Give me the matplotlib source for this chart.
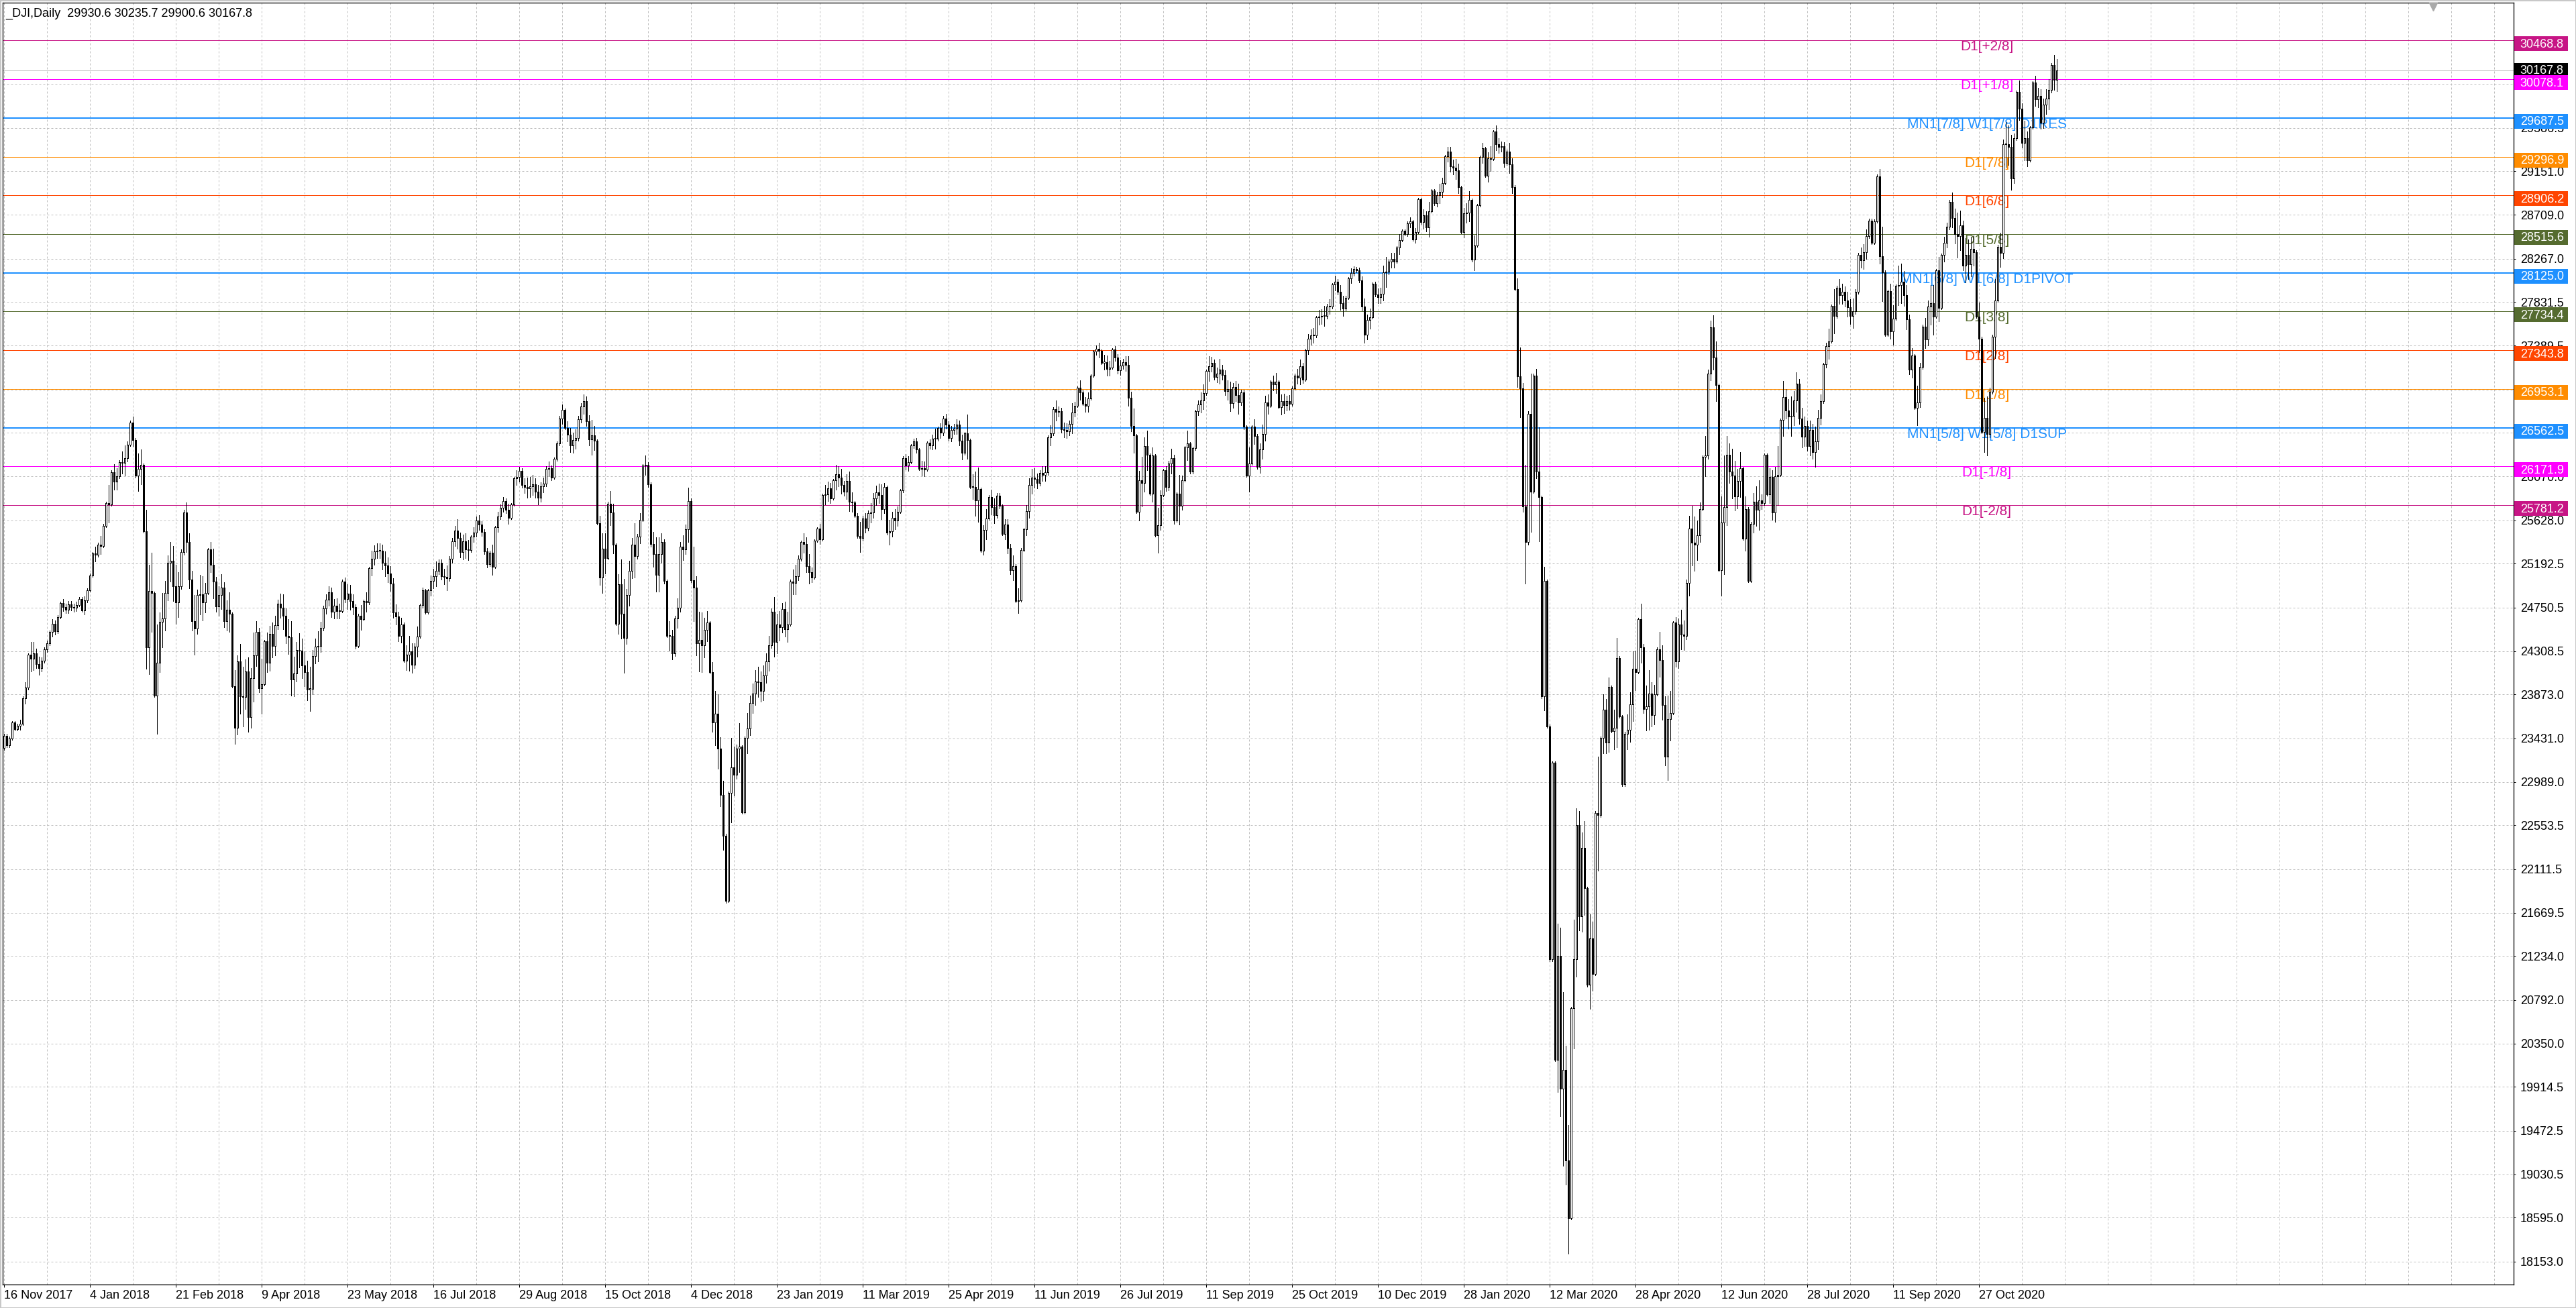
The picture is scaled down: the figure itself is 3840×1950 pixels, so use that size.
import numpy as np
import matplotlib
matplotlib.use('Agg')
import matplotlib.pyplot as plt
from matplotlib.patches import Rectangle
from matplotlib.transforms import blended_transform_factory

plt.rcParams['font.family'] = ['Liberation Sans', 'DejaVu Sans']

# --- data: daily closes (one row per month), first bar = 16 Nov 2017 ---
first_open = 23330
closes = [
    # 2017-11
    23458, 23358, 23430, 23591, 23526, 23558, 23580, 23837, 23940, 24272,
    # 2017-12
    24231, 24290, 24180, 24140, 24212, 24329, 24386, 24504, 24585, 24509,
    24652, 24792, 24754, 24727, 24782, 24754, 24746, 24775, 24838, 24719,
    # 2018-01
    24824, 24922, 25075, 25295, 25283, 25386, 25370, 25575, 25803, 25792,
    26116, 26018, 26072, 26215, 26211, 26253, 26392, 26617, 26440, 26077, 26149,
    # 2018-02
    26187, 25521, 24346, 24913, 24893, 23860, 24191, 24602, 24640, 24894,
    25201, 25219, 24965, 24798, 24962, 25310, 25710, 25411, 25029,
    # 2018-03
    24609, 24538, 24875, 24884, 24801, 24896, 25336, 25179, 25008, 24759,
    24873, 24947, 24611, 24728, 24683, 23958, 23533, 24203, 23857, 23849, 24103,
    # 2018-04
    23644, 24034, 24265, 24505, 23933, 23979, 24408, 24190, 24483, 24360,
    24573, 24787, 24748, 24665, 24463, 24449, 24025, 24084, 24323, 24311, 24163,
    # 2018-05
    24100, 23925, 23930, 24263, 24357, 24361, 24543, 24740, 24831, 24900,
    24707, 24769, 24714, 24715, 25013, 24835, 24887, 24812, 24753, 24362, 24668,
    # 2018-06
    24635, 24813, 24799, 25146, 25242, 25317, 25322, 25320, 25201, 25175,
    25090, 24988, 24701, 24657, 24462, 24581, 24216, 24271,
    # 2018-07
    24307, 24175, 24357, 24456, 24776, 24920, 24700, 24925, 25019, 25064,
    25120, 25199, 25065, 25058, 25044, 25242, 25415, 25528, 25451, 25307, 25415,
    # 2018-08
    25333, 25327, 25463, 25502, 25629, 25583, 25509, 25313, 25188, 25300,
    25162, 25559, 25669, 25758, 25822, 25733, 25656, 25790, 26050, 26065,
    26124, 25987, 25965,
    # 2018-09
    25952, 25975, 25995, 25917, 25857, 25971, 25999, 26145, 26155, 26062,
    26247, 26406, 26657, 26743, 26562, 26492, 26385, 26440, 26458,
    # 2018-10
    26651, 26774, 26828, 26627, 26447, 26487, 26431, 25599, 25053, 25340,
    25251, 25798, 25707, 25380, 24583, 24985, 24689, 24443, 24875, 25116,
    # 2018-11
    25380, 25271, 25462, 25635, 26180, 26191, 25989, 25387, 25286, 25080,
    25289, 25413, 25017, 24465, 24464, 24286, 24640, 24748, 25366, 25339, 25538,
    # 2018-12
    25826, 25027, 24947, 24389, 24423, 24370, 24527, 24597, 24101, 23592,
    23675, 23324, 22860, 22445, 21792, 22878, 23138, 23062, 23327,
    # 2019-01
    23346, 22686, 23433, 23531, 23787, 23879, 24001, 23996, 23910, 24066,
    24207, 24370, 24706, 24404, 24575, 24554, 24737, 24528, 24580, 25014, 24999,
    # 2019-02
    25064, 25239, 25411, 25391, 25169, 25106, 25053, 25425, 25543, 25439,
    25883, 25891, 25954, 25851, 26031, 26092, 26057, 25986, 25916,
    # 2019-03
    26026, 25819, 25807, 25673, 25473, 25450, 25650, 25555, 25702, 25709,
    25849, 25914, 25887, 25745, 25962, 25502, 25516, 25657, 25626, 25717, 25929,
    # 2019-04
    26258, 26180, 26218, 26385, 26425, 26341, 26150, 26157, 26143, 26412,
    26385, 26453, 26450, 26559, 26512, 26656, 26597, 26462, 26543, 26554, 26593,
    # 2019-05
    26430, 26308, 26505, 26438, 25965, 25968, 25828, 25942, 25325, 25532,
    25648, 25863, 25764, 25680, 25877, 25776, 25490, 25586, 25348, 25126,
    25170, 24815,
    # 2019-06
    24820, 25332, 25540, 25720, 25984, 26062, 26049, 26005, 26107, 26090,
    26112, 26466, 26504, 26753, 26720, 26727, 26548, 26537, 26526, 26600,
    # 2019-07
    26717, 26787, 26966, 26922, 26806, 26783, 26860, 27088, 27332, 27359,
    27336, 27220, 27223, 27154, 27172, 27350, 27270, 27141, 27192, 27222,
    27199, 26864,
    # 2019-08
    26583, 26485, 25718, 26030, 26008, 26379, 26287, 25897, 26280, 25479,
    25579, 25886, 26136, 25962, 26202, 26253, 25629, 25899, 25778, 26036,
    26362, 26403,
    # 2019-09
    26118, 26355, 26728, 26797, 26835, 26909, 27137, 27182, 27220, 27076,
    27111, 27147, 27095, 26935, 26950, 26808, 26971, 26891, 26820, 26917,
    # 2019-10
    26573, 26079, 26202, 26573, 26478, 26165, 26347, 26497, 26817, 26787,
    27025, 27001, 27026, 26770, 26828, 26788, 26834, 26806, 26958, 27091,
    27071, 27186, 27046,
    # 2019-11
    27347, 27462, 27493, 27492, 27675, 27681, 27691, 27691, 27784, 27782,
    28005, 28036, 27934, 27821, 27766, 27876, 28066, 28122, 28164, 28150, 28051,
    # 2019-12
    27783, 27503, 27650, 27678, 28015, 27909, 27881, 27911, 28133, 28135,
    28235, 28268, 28239, 28377, 28455, 28551, 28516, 28621, 28645, 28462, 28538,
    # 2020-01
    28869, 28634, 28704, 28584, 28745, 28957, 28824, 28907, 28940, 29030,
    29298, 29348, 29196, 29186, 29160, 28990, 28535, 28723, 28734, 28859, 28256,
    # 2020-02
    28400, 28807, 29291, 29380, 29103, 29277, 29276, 29551, 29424, 29398,
    29400, 29232, 29348, 29219, 28992, 27961, 27081, 26958, 25766, 25409,
    # 2020-03
    26703, 25917, 27091, 26121, 25865, 23851, 25018, 23553, 21200, 23186,
    20189, 21237, 19899, 20087, 19174, 18592, 20705, 21201, 22552, 21637,
    22327, 21917,
    # 2020-04
    20943, 21413, 21052, 22680, 22654, 23434, 23719, 23390, 23950, 23504,
    23538, 24242, 23650, 22965, 23475, 23515, 23775, 24134, 24101, 24634, 24346,
    # 2020-05
    23724, 23750, 23883, 23664, 23875, 24331, 24221, 23764, 23248, 23625,
    23685, 24597, 24206, 24576, 24474, 24465, 24995, 25548, 25401, 25383,
    # 2020-06
    25475, 25742, 26270, 26282, 27111, 27572, 27273, 26990, 25128, 25606,
    25763, 26290, 26120, 26080, 25871, 26025, 26156, 25446, 25745, 25016,
    25596, 25813,
    # 2020-07
    25735, 25827, 25800, 26287, 25890, 26067, 25706, 26075, 26086, 26643,
    26870, 26735, 26672, 26681, 26840, 27005, 26652, 26470, 26584, 26379,
    26540, 26314, 26428,
    # 2020-08
    26664, 26828, 27201, 27387, 27433, 27791, 27687, 27977, 27897, 27931,
    27845, 27778, 27692, 27740, 27931, 28308, 28249, 28332, 28493, 28654, 28430,
    # 2020-09
    28646, 29100, 28292, 28133, 27501, 27940, 27535, 27666, 27993, 28000,
    28033, 27902, 27657, 27148, 27289, 26763, 26815, 27174, 27584, 27453, 27782,
    # 2020-10
    27817, 27683, 28149, 27773, 28303, 28426, 28587, 28838, 28680, 28514,
    28494, 28606, 28195, 28309, 28211, 28364, 28336, 27685, 27463, 26520,
    26660, 26502,
    # 2020-11
    26925, 27480, 27848, 28390, 28323, 29420, 29421, 29398, 29080, 29480,
    29950, 29784, 29438, 29483, 29263, 29592, 30046, 29873, 29910, 29639,
    # 2020-12
    29824, 29883, 29970, 30218, 30070, 30168,
]

# daily high-low range, in tens of points (same rows as closes)
ranges = [
    12, 14, 10, 13, 9, 7, 10, 18, 22, 26,
    30, 28, 20, 18, 14, 16, 12, 15, 17, 14, 18, 15, 12, 10, 12, 9, 8, 10, 9, 14,
    18, 14, 17, 20, 15, 14, 18, 21, 24, 38, 30, 26, 22, 18, 22, 30, 20, 26, 30, 40, 38,
    35, 70, 160, 110, 80, 105, 110, 60, 55, 50, 45, 40, 55, 60, 45, 40, 45, 50, 55,
    60, 60, 45, 40, 45, 30, 45, 30, 50, 35, 30, 35, 45, 30, 40, 70, 75, 80, 70, 60, 50,
    75, 60, 70, 45, 65, 55, 45, 40, 45, 35, 40, 30, 25, 35, 35, 35, 75, 40, 40, 35, 40,
    35, 40, 45, 45, 25, 30, 30, 25, 20, 20, 30, 20, 20, 15, 20, 25, 25, 25, 20, 45, 30,
    25, 20, 20, 35, 25, 20, 15, 15, 25, 25, 25, 25, 40, 20, 30, 25, 30, 25,
    35, 30, 25, 30, 30, 20, 25, 25, 20, 20, 25, 15, 20, 15, 25, 25, 25, 20, 30, 25, 25,
    25, 20, 15, 15, 20, 15, 15, 25, 20, 15, 30, 30, 20, 15, 15, 15, 20, 15, 25, 15, 15, 20, 15,
    20, 20, 20, 20, 20, 20, 15, 20, 15, 15, 20, 20, 30, 20, 20, 20, 25, 20, 20,
    25, 20, 20, 30, 30, 35, 25, 85, 70, 60, 40, 55, 35, 50, 70, 60, 80, 95, 55, 45,
    40, 55, 25, 30, 40, 20, 25, 65, 35, 55, 55, 30, 45, 55, 30, 30, 40, 30, 70, 25, 30,
    55, 85, 75, 80, 60, 60, 40, 30, 45, 70, 55, 75, 70, 70, 70, 110, 85, 50, 35,
    50, 65, 70, 40, 40, 30, 35, 30, 30, 35, 30, 35, 40, 60, 40, 30, 30, 35, 30, 45, 25,
    30, 25, 20, 20, 35, 30, 15, 25, 15, 20, 40, 20, 20, 20, 20, 25, 20, 25, 15,
    25, 40, 20, 15, 25, 30, 25, 20, 20, 20, 25, 20, 20, 35, 30, 45, 25, 25, 20, 20, 20,
    25, 15, 15, 15, 10, 15, 15, 15, 15, 20, 10, 15, 20, 10, 15, 20, 15, 20, 15, 10, 15,
    25, 25, 15, 45, 45, 25, 45, 55, 45, 30, 30, 25, 25, 25, 25, 15, 30, 20, 35, 30, 25, 35,
    25, 50, 20, 30, 40, 25, 20, 15, 15, 15, 15, 40, 20, 25, 20, 10, 25, 15, 15, 15,
    30, 15, 15, 20, 15, 15, 20, 15, 15, 10, 15, 15, 15, 20, 15, 20, 15, 20, 15, 10, 15, 50,
    40, 45, 60, 50, 50, 55, 40, 40, 55, 45, 45, 40, 20, 25, 30, 25, 70, 30, 50, 35, 30, 30,
    30, 25, 20, 15, 20, 25, 20, 25, 15, 20, 15, 25, 15, 25, 20, 30, 25, 20, 30, 15,
    40, 50, 45, 25, 25, 35, 30, 35, 45, 20, 25, 15, 20, 25, 20, 20, 15, 15, 20, 15, 15, 25, 20,
    20, 20, 15, 15, 20, 15, 15, 20, 15, 15, 20, 15, 15, 25, 20, 15, 15, 15, 10, 5, 15,
    35, 45, 25, 20, 15, 15, 15, 15, 35, 30, 15, 15, 15, 15, 20, 10, 5, 15, 10, 20, 15,
    30, 25, 20, 20, 35, 20, 15, 15, 20, 20, 25, 15, 25, 15, 20, 30, 45, 30, 20, 30, 60,
    35, 40, 45, 20, 30, 30, 25, 25, 25, 15, 10, 25, 15, 30, 35, 90, 110, 70, 130, 120,
    135, 160, 115, 110, 115, 170, 145, 110, 190, 180, 210, 170, 190, 175, 140, 130, 200, 130, 170, 120, 100, 95,
    80, 95, 70, 100, 115, 60, 60, 55, 75, 45, 40, 110, 50, 60, 55, 35, 50, 70, 40, 55, 60,
    70, 45, 60, 45, 40, 40, 45, 75, 70, 85, 50, 60, 50, 50, 40, 30, 60, 80, 60, 55,
    40, 40, 55, 40, 90, 60, 55, 60, 90, 100, 120, 90, 40, 50, 50, 40, 45, 70, 55, 50, 60, 40,
    40, 50, 15, 40, 40, 35, 50, 55, 60, 55, 55, 30, 30, 40, 35, 40, 45, 40, 30, 30, 35, 35, 40,
    40, 30, 35, 25, 30, 35, 45, 25, 25, 20, 20, 25, 25, 30, 25, 30, 20, 25, 30, 20, 25,
    25, 45, 95, 75, 65, 45, 55, 40, 35, 40, 40, 35, 45, 60, 30, 55, 40, 45, 40, 30, 45,
    40, 50, 45, 65, 40, 25, 25, 30, 35, 35, 45, 40, 50, 45, 40, 40, 30, 55, 50, 55, 55, 60,
    50, 60, 80, 40, 35, 120, 45, 40, 55, 50, 45, 40, 45, 40, 35, 35, 45, 30, 20, 40,
    30, 25, 30, 30, 35, 33,
]

date_labels = ['16 Nov 2017', '4 Jan 2018', '21 Feb 2018', '9 Apr 2018', '23 May 2018',
               '16 Jul 2018', '29 Aug 2018', '15 Oct 2018', '4 Dec 2018', '23 Jan 2019',
               '11 Mar 2019', '25 Apr 2019', '11 Jun 2019', '26 Jul 2019', '11 Sep 2019',
               '25 Oct 2019', '10 Dec 2019', '28 Jan 2020', '12 Mar 2020', '28 Apr 2020',
               '12 Jun 2020', '28 Jul 2020', '11 Sep 2020', '27 Oct 2020']

y_ticks = [18153.0, 18595.0, 19030.5, 19472.5, 19914.5, 20350.0, 20792.0, 21234.0,
           21669.5, 22111.5, 22553.5, 22989.0, 23431.0, 23873.0, 24308.5, 24750.5,
           25192.5, 25628.0, 26070.0, 26512.0, 26947.5, 27389.5, 27831.5, 28267.0,
           28709.0, 29151.0, 29586.5, 30028.5]

levels = [30468.75, 30078.125, 29687.5, 29296.875, 28906.25, 28515.625, 28125.0,
          27734.375, 27343.75, 26953.125, 26562.5, 26171.875, 25781.25]
level_names = ['D1[+2/8]', 'D1[+1/8]', 'MN1[7/8] W1[7/8] D1RES', 'D1[7/8]', 'D1[6/8]',
               'D1[5/8]', 'MN1[6/8] W1[6/8] D1PIVOT', 'D1[3/8]', 'D1[2/8]', 'D1[1/8]',
               'MN1[5/8] W1[5/8] D1SUP', 'D1[-1/8]', 'D1[-2/8]']
level_colors = ['#C71585', '#FF00FF', '#1E90FF', '#FF8C00', '#FF4500', '#556B2F',
                '#1E90FF', '#556B2F', '#FF4500', '#FF8C00', '#1E90FF', '#FF00FF', '#C71585']

last_price = 30167.8
header = '_DJI,Daily  29930.6 30235.7 29900.6 30167.8'

# --- layout (pixels of the 3840x1950 canvas) ---
W, H, DPI = 3840, 1950, 100
PX = 72.0 / DPI
L, R, T, B = 4.3, 3746.7, 4.0, 1914.5

fig = plt.figure(figsize=(W / DPI, H / DPI), dpi=DPI, facecolor='white')
ax = fig.add_axes([L / W, 1 - B / H, (R - L) / W, (B - T) / H])

# candles
c = np.array(closes, dtype=float)
n = min(len(c), len(ranges))
c = c[:n]
o = np.concatenate([[first_open], c[:-1]])
rng = np.array(ranges[:n], dtype=float) * 10
body = np.abs(c - o)
ext = np.maximum((rng - body) / 2, 15)
hi = np.maximum(o, c) + ext
lo = np.minimum(o, c) - ext
x = np.arange(n)
up = c >= o
bottoms = np.minimum(o, c)
heights = np.maximum(body, 7)

ax.vlines(x, lo, hi, colors='black', lw=PX, zorder=3, antialiased=False)
ax.bar(x[up], heights[up], 0.55, bottom=bottoms[up], facecolor='white',
       edgecolor='black', lw=PX, zorder=4, antialiased=False)
ax.bar(x[~up], heights[~up], 0.55, bottom=bottoms[~up], facecolor='black',
       edgecolor='black', lw=PX, zorder=4, antialiased=False)

ax.set_xlim(-0.35, 935.25)
ax.set_ylim(17924.2, 30849.7)

# grid
for b in range(0, 936, 16):
    ax.axvline(b, color='#BEBEBE', lw=PX, ls=(0, (3, 3)), zorder=0.5)
for yv in y_ticks:
    ax.axhline(yv, color='#BEBEBE', lw=PX, ls=(0, (3, 3)), zorder=0.5)

# murrey levels
trans = blended_transform_factory(ax.transAxes, ax.transData)
ppx = (30849.7 - 17924.2) / (B - T)   # price per pixel
box_x0 = (3748 - L) / (R - L)
box_w = 80 / (R - L)
box_h = 22 * ppx
txt_x = (3756.7 - L) / (R - L)

ax.axhline(last_price, color='#C0C0C0', lw=PX, zorder=1)
ax.add_patch(Rectangle((box_x0, last_price - box_h / 2), box_w, box_h, transform=trans,
                       facecolor='black', edgecolor='none', clip_on=False, zorder=5.5))
ax.text(txt_x, last_price - ppx, f'{last_price:.1f}', transform=trans, color='white',
        fontsize=13, ha='left', va='center', clip_on=False, zorder=5.6)

for lv, name, col in zip(levels, level_names, level_colors):
    lw = 2 * PX if col == '#1E90FF' else PX
    ax.axhline(lv, color=col, lw=lw, zorder=1)
    ax.text(739, lv, name, color=col, fontsize=15, ha='center', va='top', zorder=1.5)
    yc = lv - 5 * ppx
    ax.add_patch(Rectangle((box_x0, yc - box_h / 2), box_w, box_h, transform=trans,
                           facecolor=col, edgecolor='none', clip_on=False, zorder=6))
    ax.text(txt_x, yc - ppx, f'{lv:.1f}', transform=trans, color='white', fontsize=13,
            ha='left', va='center', clip_on=False, zorder=6.5)

# axes, ticks
ax.yaxis.tick_right()
ax.set_yticks(y_ticks)
ax.set_yticklabels([f'{v:.1f}' for v in y_ticks])
ax.set_xticks(list(range(0, 32 * len(date_labels), 32)))
ax.set_xticklabels(date_labels, ha='left')
ax.tick_params(axis='y', direction='out', length=3 * PX, width=PX, pad=7 * PX,
               labelsize=13, colors='black')
ax.tick_params(axis='x', direction='out', length=4 * PX, width=PX, pad=4.5 * PX,
               labelsize=13, colors='black')
for s in ax.spines.values():
    s.set_color('black')
    s.set_linewidth(1.3 * PX)

# chart shift marker
ax.plot([905.3], [1 - 6 / (B - T)], marker='v', ms=8, color='#A9A9A9',
        transform=blended_transform_factory(ax.transData, ax.transAxes),
        clip_on=False, zorder=7)

fig.text(8.4 / W, 1 - 12 / H, header, fontsize=13, ha='left', va='top', color='black')
fig.patches.append(Rectangle((0, 0), 1, 1, transform=fig.transFigure, fill=False,
                             edgecolor='#C8C8C8', lw=3 * PX))

fig.savefig('out.png', dpi=DPI, facecolor='white')
